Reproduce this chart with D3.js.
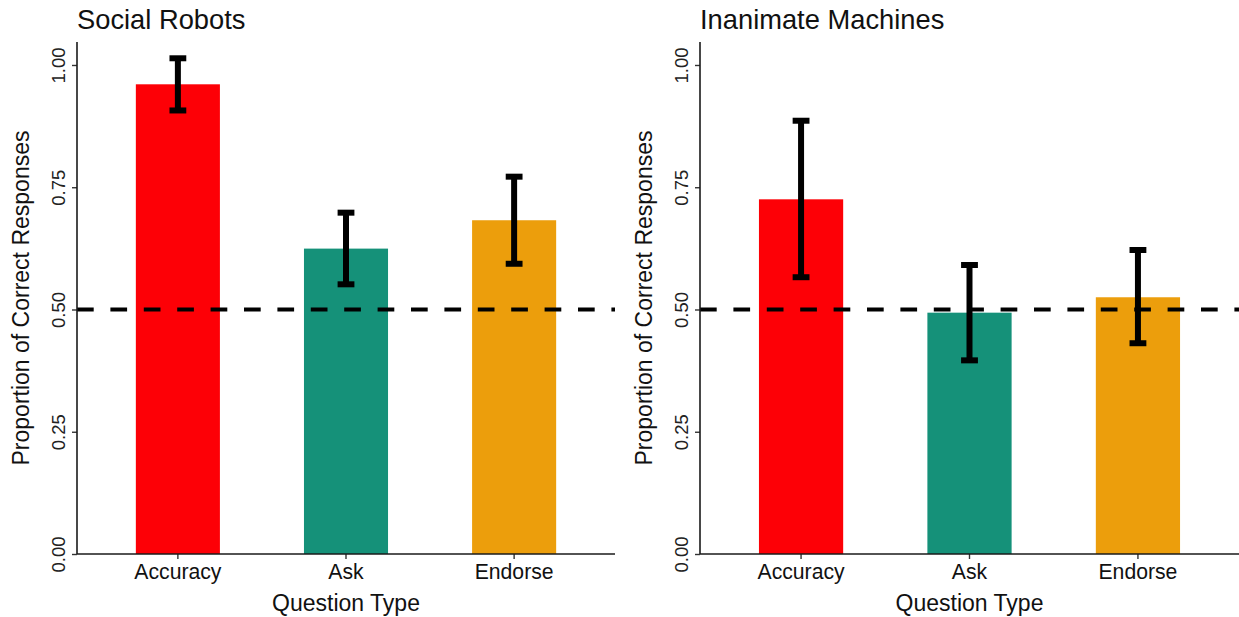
<!DOCTYPE html>
<html>
<head>
<meta charset="utf-8">
<script src="https://cdn.jsdelivr.net/npm/d3@7"></script>
<style>
  body { margin: 0; background: #fff; }
  svg { font-family: "Liberation Sans", Arial, sans-serif; }
</style>
</head>
<body>
<script>
// data
const questionTypes = ['Accuracy', 'Ask', 'Endorse']
const barColors = ['#fd0006', '#159179', '#ec9e0c']
const panelTitles = ['Social Robots', 'Inanimate Machines']

const robotMeans = [0.9605, 0.6245, 0.6825]
const robotLower = [0.907, 0.5515, 0.5935]
const robotUpper = [1.0137, 0.698, 0.7716]

const machineMeans = [0.7253, 0.4935, 0.525]
const machineLower = [0.566, 0.396, 0.431]
const machineUpper = [0.886, 0.591, 0.6217]

const yTicks = [0, 0.25, 0.5, 0.75, 1]
const chanceLevel = 0.5

const w = 1239
const h = 617

const svg = d3.select('body')
  .append('svg')
  .attr('width', w)
  .attr('height', h)

const panels = [
  { title: panelTitles[0], means: robotMeans, lower: robotLower, upper: robotUpper, left: 77, right: 615 },
  { title: panelTitles[1], means: machineMeans, lower: machineLower, upper: machineUpper, left: 700, right: 1239 }
]

const plotTop = 42
const plotBottom = 554

panels.forEach(p => drawPanel(p))

function drawPanel(p) {
  const g = svg.append('g')

  const xScale = d3.scaleBand()
    .domain(questionTypes)
    .range([p.left, p.right])
    .paddingInner(0.5)
    .paddingOuter(0.35)

  const yScale = d3.scaleLinear()
    .domain([0, 1.047])
    .range([plotBottom, plotTop])

  const rows = questionTypes.map((q, i) => ({
    q: q, mean: p.means[i], lo: p.lower[i], hi: p.upper[i], color: barColors[i]
  }))

  // bars
  g.selectAll('rect.bar')
    .data(rows)
    .enter()
    .append('rect')
    .attr('class', 'bar')
    .attr('x', d => xScale(d.q))
    .attr('width', xScale.bandwidth())
    .attr('y', d => yScale(d.mean))
    .attr('height', d => yScale(0) - yScale(d.mean))
    .style('fill', d => d.color)

  // chance line
  g.append('line')
    .attr('x1', p.left)
    .attr('x2', p.right)
    .attr('y1', yScale(chanceLevel))
    .attr('y2', yScale(chanceLevel))
    .style('stroke', 'black')
    .style('stroke-width', '4px')
    .style('stroke-dasharray', '16.7,16.7')

  // error bars
  const capHalf = xScale.bandwidth() * 0.1
  g.selectAll('g.err')
    .data(rows)
    .enter()
    .append('g')
    .attr('class', 'err')
    .each(function(d) {
      const cx = xScale(d.q) + xScale.bandwidth() / 2
      const sel = d3.select(this)
      sel.append('line')
        .attr('x1', cx).attr('x2', cx)
        .attr('y1', yScale(d.hi)).attr('y2', yScale(d.lo))
        .style('stroke', 'black')
        .style('stroke-width', '6px')
      ;[d.hi, d.lo].forEach(v => {
        sel.append('line')
          .attr('x1', cx - capHalf).attr('x2', cx + capHalf)
          .attr('y1', yScale(v)).attr('y2', yScale(v))
          .style('stroke', 'black')
          .style('stroke-width', '6px')
      })
    })

  // axes
  const yAxis = d3.axisLeft(yScale)
    .tickValues(yTicks)
    .tickFormat(d3.format('.2f'))
    .tickSize(5)

  const yAxisG = g.append('g')
    .attr('transform', `translate(${p.left},0)`)
    .call(yAxis)
  yAxisG.select('.domain').remove()
  yAxisG.append('line')
    .attr('x1', 0).attr('x2', 0)
    .attr('y1', plotTop).attr('y2', plotBottom)
    .style('stroke', '#1a1a1a')
    .style('stroke-width', '1.6px')
  yAxisG.selectAll('.tick line').style('stroke', '#333').style('stroke-width', '1.4px')
  yAxisG.selectAll('.tick text')
    .attr('dy', 0)
    .attr('x', 0)
    .attr('y', -12)
    .attr('transform', 'rotate(-90)')
    .attr('text-anchor', 'middle')
    .style('font-size', '18.5px')
    .style('fill', '#222')

  const xAxis = d3.axisBottom(xScale)
    .tickSize(5)

  const xAxisG = g.append('g')
    .attr('transform', `translate(0,${plotBottom})`)
    .call(xAxis)
  xAxisG.select('.domain').remove()
  xAxisG.append('line')
    .attr('x1', p.left).attr('x2', p.right)
    .attr('y1', 0).attr('y2', 0)
    .style('stroke', '#1a1a1a')
    .style('stroke-width', '1.6px')
  xAxisG.selectAll('.tick line').style('stroke', '#333').style('stroke-width', '1.4px')
  xAxisG.selectAll('.tick text')
    .attr('dy', 0)
    .attr('y', 25)
    .style('font-size', '21.2px')
    .style('fill', '#111')

  // axis titles
  g.append('text')
    .attr('x', (p.left + p.right) / 2)
    .attr('y', 611)
    .attr('text-anchor', 'middle')
    .style('font-size', '23px')
    .style('fill', '#111')
    .text('Question Type')

  g.append('text')
    .attr('transform', `translate(${p.left - 48},${(plotTop + plotBottom) / 2}) rotate(-90)`)
    .attr('text-anchor', 'middle')
    .style('font-size', '23px')
    .style('fill', '#111')
    .text('Proportion of Correct Responses')

  // panel title
  g.append('text')
    .attr('x', p.left)
    .attr('y', 29)
    .style('font-size', '27.3px')
    .style('fill', '#111')
    .text(p.title)
}
</script>
</body>
</html>
